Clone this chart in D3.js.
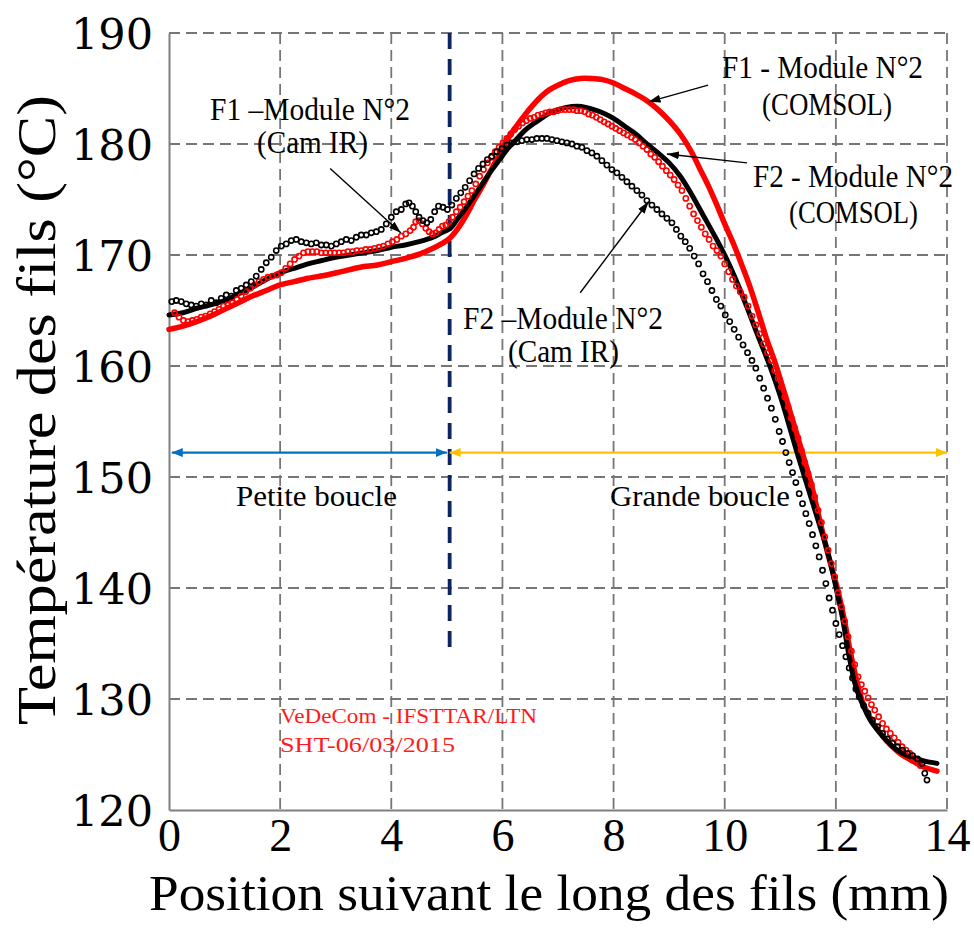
<!DOCTYPE html>
<html><head><meta charset="utf-8">
<script src="https://cdn.jsdelivr.net/npm/d3@7"></script>
<style>body{margin:0;background:#fff}</style>
</head><body>
<svg id="c" width="974" height="935"></svg>
<script>
// ---------- data ----------
const xTicks = [0, 2, 4, 6, 8, 10, 12, 14];
const yTicks = [120, 130, 140, 150, 160, 170, 180, 190];
const xTitle = "Position suivant le long des fils (mm)";
const yTitle = "Température des fils (°C)";

// F1 - Module N°2 (COMSOL) : red filled dots
const f1Comsol = [[0.00,163.3],[0.25,163.6],[0.5,164.0],[0.75,164.5],[1.0,165.1],[1.25,165.7],[1.5,166.3],[1.75,166.8],[2.0,167.3],[2.25,167.6],[2.5,167.9],[2.84,168.2],[3.1,168.5],[3.44,168.9],[3.75,169.1],[4.0,169.4],[4.25,169.7],[4.52,170.1],[4.75,170.6],[4.9,171.0],[5.05,171.5],[5.2,172.4],[5.35,173.6],[5.5,175.0],[5.65,176.3],[5.8,177.7],[5.95,179.1],[6.1,180.5],[6.25,181.6],[6.4,182.6],[6.55,183.5],[6.7,184.3],[6.85,184.9],[7.0,185.3],[7.2,185.7],[7.4,185.9],[7.6,185.9],[7.8,185.8],[8.0,185.5],[8.2,185.0],[8.4,184.5],[8.6,183.9],[8.8,183.1],[9.0,182.1],[9.2,180.9],[9.4,179.3],[9.55,177.8],[9.7,176.3],[9.85,174.6],[10.0,172.8],[10.15,171.1],[10.3,169.2],[10.45,167.2],[10.6,164.9],[10.75,162.5],[10.9,160.4],[11.05,158.0],[11.2,155.5],[11.39,152.3],[11.55,149.5],[11.71,146.1],[11.85,143.2],[12.02,140.1],[12.15,137.2],[12.25,134.5],[12.35,132.2],[12.49,129.6],[12.65,128.0],[12.85,126.6],[13.0,125.8],[13.15,125.1],[13.35,124.5],[13.57,123.9],[13.82,123.5]];

// F2 - Module N°2 (COMSOL) : black filled dots
const f2Comsol = [[0.00,164.6],[0.25,164.8],[0.5,165.2],[0.75,165.5],[1.0,165.9],[1.25,166.5],[1.5,167.1],[1.75,167.8],[2.0,168.4],[2.25,168.8],[2.5,169.2],[2.75,169.5],[3.0,169.8],[3.25,170.0],[3.5,170.2],[3.75,170.4],[4.0,170.7],[4.25,170.9],[4.5,171.2],[4.75,171.6],[4.9,172.0],[5.06,172.4],[5.2,173.3],[5.35,174.3],[5.5,175.4],[5.65,176.5],[5.8,177.6],[5.95,178.6],[6.1,179.6],[6.25,180.4],[6.4,181.2],[6.55,181.8],[6.7,182.3],[6.85,182.8],[7.0,183.1],[7.15,183.3],[7.35,183.4],[7.5,183.3],[7.7,183.0],[7.85,182.7],[8.0,182.3],[8.2,181.6],[8.4,180.9],[8.6,180.0],[8.8,179.2],[9.0,178.3],[9.2,177.1],[9.4,175.5],[9.6,173.7],[9.8,171.9],[10.0,170.0],[10.2,167.8],[10.4,165.3],[10.6,162.7],[10.82,159.9],[11.0,157.3],[11.15,154.8],[11.29,152.4],[11.45,149.8],[11.68,146.1],[11.85,143.3],[12.0,140.1],[12.12,137.3],[12.23,134.1],[12.36,131.1],[12.5,129.3],[12.62,128.1],[12.8,126.9],[13.0,125.8],[13.2,125.1],[13.4,124.7],[13.6,124.4],[13.82,124.2]];

// F1 -Module N°2 (Cam IR) : red open circles
const f1CamIR = [[0.10,164.8],[0.18,164.4],[0.26,164.1],[0.34,164.0],[0.42,164.1],[0.50,164.2],[0.58,164.4],[0.66,164.5],[0.74,164.7],[0.82,164.9],[0.90,165.1],[0.98,165.4],[1.06,165.5],[1.14,165.7],[1.22,166.0],[1.30,166.3],[1.38,166.7],[1.46,167.0],[1.54,167.3],[1.62,167.6],[1.70,167.8],[1.78,168.0],[1.86,168.1],[1.94,168.2],[2.02,168.4],[2.10,168.8],[2.18,169.2],[2.26,169.6],[2.34,169.9],[2.42,170.2],[2.50,170.3],[2.58,170.3],[2.66,170.3],[2.74,170.2],[2.82,170.2],[2.90,170.2],[2.98,170.2],[3.06,170.2],[3.14,170.2],[3.22,170.3],[3.30,170.3],[3.38,170.4],[3.46,170.4],[3.54,170.5],[3.62,170.5],[3.70,170.6],[3.78,170.7],[3.86,170.8],[3.94,171.0],[4.02,171.2],[4.10,171.4],[4.18,171.7],[4.26,171.9],[4.34,172.2],[4.40,172.5],[4.44,173.0],[4.50,173.1],[4.56,172.8],[4.62,172.4],[4.68,172.1],[4.74,171.9],[4.80,172.0],[4.86,172.3],[4.92,172.6],[4.98,172.7],[5.04,173.0],[5.10,173.4],[5.17,173.9],[5.24,174.3],[5.31,174.8],[5.38,175.3],[5.45,175.8],[5.52,176.4],[5.59,177.1],[5.66,177.7],[5.73,178.3],[5.80,178.8],[5.87,179.3],[5.94,179.7],[6.01,180.1],[6.08,180.5],[6.15,180.9],[6.22,181.3],[6.29,181.6],[6.36,181.9],[6.43,182.1],[6.50,182.3],[6.57,182.4],[6.64,182.6],[6.71,182.7],[6.78,182.8],[6.85,182.9],[6.92,182.9],[6.99,183.0],[7.06,183.1],[7.13,183.1],[7.20,183.1],[7.27,183.1],[7.34,183.0],[7.41,183.0],[7.48,182.9],[7.55,182.7],[7.62,182.6],[7.69,182.4],[7.76,182.2],[7.83,182.0],[7.90,181.8],[7.97,181.6],[8.04,181.4],[8.11,181.2],[8.18,181.0],[8.25,180.8],[8.32,180.6],[8.39,180.4],[8.46,180.1],[8.53,179.8],[8.60,179.5],[8.67,179.1],[8.74,178.8],[8.81,178.4],[8.88,178.0],[8.95,177.6],[9.02,177.2],[9.09,176.8],[9.16,176.3],[9.23,175.8],[9.30,175.1],[9.37,174.4],[9.44,173.7],[9.51,173.1],[9.58,172.5],[9.65,171.9],[9.72,171.4],[9.79,170.8],[9.86,170.4],[9.93,169.9],[10.00,169.2],[10.07,168.5],[10.14,167.8],[10.21,167.2],[10.28,166.7],[10.35,166.2],[10.42,165.4],[10.49,164.5],[10.56,163.7],[10.63,162.9],[10.70,162.0],[10.77,161.2],[10.84,160.5],[10.90,159.6],[10.96,158.9],[11.02,158.1],[11.08,157.2],[11.14,156.3],[11.20,155.3],[11.26,154.4],[11.32,153.5],[11.38,152.4],[11.44,151.3],[11.50,150.3],[11.56,149.3],[11.62,148.2],[11.68,147.0],[11.74,145.9],[11.80,144.6],[11.86,143.4],[11.92,142.2],[11.98,141.0],[12.04,139.6],[12.10,138.3],[12.16,137.0],[12.22,135.6],[12.28,134.3],[12.34,133.1],[12.40,132.0],[12.46,131.3],[12.52,130.7],[12.58,130.1],[12.64,129.5],[12.70,129.0],[12.77,128.4],[12.84,127.8],[12.91,127.3],[12.98,126.9],[13.05,126.5],[13.12,126.1],[13.19,125.7],[13.26,125.4],[13.33,125.1],[13.40,124.7],[13.47,124.3],[13.52,124.0]];

// F2 -Module N°2 (Cam IR) : black open circles
const f2CamIR = [[0.05,165.8],[0.13,165.9],[0.22,165.8],[0.31,165.6],[0.40,165.5],[0.49,165.4],[0.58,165.6],[0.67,165.5],[0.76,165.9],[0.85,165.7],[0.94,166.1],[1.03,166.4],[1.12,166.3],[1.21,166.8],[1.30,167.0],[1.39,167.3],[1.48,167.6],[1.57,168.1],[1.66,168.7],[1.75,169.3],[1.84,169.8],[1.93,170.4],[2.02,170.8],[2.11,171.0],[2.20,171.3],[2.29,171.4],[2.38,171.2],[2.47,171.1],[2.56,171.0],[2.65,171.1],[2.74,170.9],[2.83,170.9],[2.92,170.8],[3.01,171.0],[3.10,171.2],[3.19,171.4],[3.28,171.3],[3.37,171.6],[3.46,171.8],[3.55,171.8],[3.64,172.0],[3.73,172.1],[3.82,172.3],[3.91,172.8],[4.00,173.4],[4.09,173.9],[4.18,174.1],[4.26,174.6],[4.32,174.7],[4.38,174.4],[4.44,173.9],[4.50,173.4],[4.57,173.1],[4.64,172.9],[4.71,173.2],[4.78,173.9],[4.85,174.4],[4.93,174.3],[5.01,174.1],[5.09,174.5],[5.17,175.1],[5.25,175.6],[5.33,176.1],[5.41,176.7],[5.49,177.3],[5.57,177.8],[5.65,178.2],[5.73,178.6],[5.81,178.9],[5.90,179.3],[5.99,179.6],[6.08,179.9],[6.17,180.1],[6.26,180.2],[6.35,180.3],[6.44,180.4],[6.53,180.4],[6.62,180.5],[6.71,180.5],[6.80,180.5],[6.89,180.4],[6.98,180.3],[7.07,180.2],[7.16,180.1],[7.25,180.0],[7.34,179.8],[7.43,179.7],[7.52,179.4],[7.61,179.2],[7.70,178.9],[7.79,178.5],[7.88,178.1],[7.97,177.7],[8.06,177.4],[8.15,177.0],[8.24,176.6],[8.33,176.2],[8.42,175.8],[8.51,175.4],[8.60,174.9],[8.69,174.5],[8.78,174.1],[8.87,173.7],[8.96,173.3],[9.05,172.9],[9.13,172.3],[9.21,171.7],[9.29,171.2],[9.37,170.6],[9.45,169.9],[9.53,169.2],[9.61,168.3],[9.69,167.6],[9.77,166.8],[9.85,166.0],[9.93,165.4],[10.01,164.6],[10.09,164.0],[10.17,163.3],[10.25,162.6],[10.33,161.9],[10.41,161.2],[10.49,160.5],[10.56,159.8],[10.63,158.9],[10.70,158.0],[10.77,157.1],[10.84,156.2],[10.91,155.2],[10.98,154.1],[11.04,153.2],[11.10,152.2],[11.16,151.3],[11.22,150.4],[11.28,149.5],[11.34,148.5],[11.40,147.6],[11.46,146.7],[11.52,145.8],[11.58,144.8],[11.64,143.8],[11.70,142.8],[11.76,141.6],[11.82,140.4],[11.88,139.1],[11.94,138.0],[12.00,136.8],[12.06,135.8],[12.12,134.8],[12.18,133.8],[12.24,132.8],[12.30,131.9],[12.36,130.9],[12.42,130.2],[12.50,129.4],[12.58,128.7],[12.66,128.1],[12.75,127.5],[12.84,126.9],[12.93,126.4],[13.02,126.0],[13.11,125.7],[13.20,125.4],[13.29,125.1],[13.38,124.9],[13.47,124.6],[13.55,124.2],[13.60,123.3],[13.64,122.7]];

// boundary between loops (mm) and its temperature span
const boundaryX = [5.05];
const boundarySpan = [190, 134];
// loop extent arrows: [xStart, xEnd, temperature]
const petiteBoucle = [0.05, 5.0, 152.2];
const grandeBoucle = [5.05, 14.0, 152.2];
// annotation arrows: [xFrom, tFrom, xTo, tTo]
const pointers = [[2.90,177.8,4.17,172.0],[9.70,185.3,8.63,183.8],[10.40,178.3,8.96,179.1],[7.40,166.6,8.63,174.8]];

// ---------- drawing ----------
const W = 974, H = 935;
const svg = d3.select('#c');
svg.append('rect').attr('width', W).attr('height', H).attr('fill', '#fff');
const x = d3.scaleLinear().domain([0, 14]).range([169, 947]);
const y = d3.scaleLinear().domain([120, 190]).range([810, 33]);

const defs = svg.append('defs');
function marker(id, color, len, wid) {
  defs.append('marker').attr('id', id).attr('markerUnits', 'userSpaceOnUse')
    .attr('viewBox', `0 ${-wid/2} ${len} ${wid}`).attr('refX', len).attr('refY', 0)
    .attr('markerWidth', len).attr('markerHeight', wid).attr('orient', 'auto-start-reverse')
    .append('path').attr('d', `M0,${-wid/2}L${len},0L0,${wid/2}Z`).attr('fill', color);
}
marker('ab', '#0070C0', 11, 9);
marker('ao', '#FFC000', 11, 9);
marker('ak', '#000', 12, 8);

// grid
const gridStyle = g => g.attr('stroke', '#767676').attr('stroke-width', 1.8).attr('stroke-dasharray', '11,6').attr('fill', 'none');
svg.append('g').call(gridStyle).selectAll('line').data(yTicks.filter(t => t > 120)).join('line')
  .attr('x1', x(0)).attr('x2', x(14)).attr('y1', d => y(d)).attr('y2', d => y(d));
svg.append('g').call(gridStyle).selectAll('line').data(xTicks.filter(t => t > 0)).join('line')
  .attr('y1', y(190)).attr('y2', y(120)).attr('x1', d => x(d)).attr('x2', d => x(d));

// axes
const ax = svg.append('g').attr('transform', `translate(0,${y(120)})`)
  .call(d3.axisBottom(x).tickValues(xTicks).tickSize(0).tickPadding(8).tickFormat(d3.format('d')));
ax.select('.domain').attr('stroke', '#808080').attr('stroke-width', 2);
ax.selectAll('text').attr('font-family', 'Liberation Serif, serif').attr('font-size', 46).attr('fill', '#000');
const ay = svg.append('g').attr('transform', `translate(${x(0)},0)`)
  .call(d3.axisLeft(y).tickValues(yTicks).tickSize(0).tickPadding(16).tickFormat(d3.format('d')));
ay.select('.domain').attr('stroke', '#808080').attr('stroke-width', 2);
ay.selectAll('text').attr('font-family', 'DejaVu Serif, serif').attr('font-size', 43).attr('dy', '0.36em').attr('fill', '#000');

// titles
svg.append('text').text(xTitle).attr('x', 549).attr('y', 910).attr('text-anchor', 'middle')
  .attr('font-family', 'Liberation Serif, serif').attr('font-size', 50)
  .attr('textLength', 800).attr('lengthAdjust', 'spacingAndGlyphs');
svg.append('text').text(yTitle).attr('transform', 'translate(55,410) rotate(-90)').attr('text-anchor', 'middle')
  .attr('font-family', 'Liberation Serif, serif').attr('font-size', 54)
  .attr('textLength', 630).attr('lengthAdjust', 'spacingAndGlyphs');

// boundary line
svg.append('line').attr('x1', x(boundaryX[0])).attr('x2', x(boundaryX[0]))
  .attr('y1', y(boundarySpan[0])).attr('y2', y(boundarySpan[1]))
  .attr('stroke', '#0c2461').attr('stroke-width', 3.8).attr('stroke-dasharray', '16,10');

// loop arrows
svg.append('line').attr('x1', x(petiteBoucle[0])).attr('x2', x(petiteBoucle[1]))
  .attr('y1', y(petiteBoucle[2])).attr('y2', y(petiteBoucle[2]))
  .attr('stroke', '#0070C0').attr('stroke-width', 2.4)
  .attr('marker-start', 'url(#ab)').attr('marker-end', 'url(#ab)');
svg.append('line').attr('x1', x(grandeBoucle[0])).attr('x2', x(grandeBoucle[1]))
  .attr('y1', y(grandeBoucle[2])).attr('y2', y(grandeBoucle[2]))
  .attr('stroke', '#FFC000').attr('stroke-width', 2.4)
  .attr('marker-start', 'url(#ao)').attr('marker-end', 'url(#ao)');

// series
const line = d3.line().x(d => x(d[0])).y(d => y(d[1])).curve(d3.curveCatmullRom.alpha(0.5));
svg.append('path').datum(f1Comsol).attr('d', line).attr('fill', 'none').attr('stroke', '#ff0000')
  .attr('stroke-width', 5.5).attr('stroke-linecap', 'round').attr('stroke-linejoin', 'round');
svg.append('path').datum(f2Comsol).attr('d', line).attr('fill', 'none').attr('stroke', '#000')
  .attr('stroke-width', 5).attr('stroke-linecap', 'round').attr('stroke-linejoin', 'round');
svg.append('g').selectAll('circle').data(f1CamIR).join('circle')
  .attr('cx', d => x(d[0])).attr('cy', d => y(d[1])).attr('r', 2.6)
  .attr('fill', 'none').attr('stroke', '#ff0000').attr('stroke-width', 1.6);
svg.append('g').selectAll('circle').data(f2CamIR).join('circle')
  .attr('cx', d => x(d[0])).attr('cy', d => y(d[1])).attr('r', 2.6)
  .attr('fill', 'none').attr('stroke', '#000').attr('stroke-width', 1.6);

// pointers
svg.append('g').selectAll('line').data(pointers).join('line')
  .attr('x1', d => x(d[0])).attr('y1', d => y(d[1])).attr('x2', d => x(d[2])).attr('y2', d => y(d[3]))
  .attr('stroke', '#000').attr('stroke-width', 1.4).attr('marker-end', 'url(#ak)');

// labels
const labels = [
  {t: 'F1 –Module N°2', x: 210, y: 120, w: 200, s: 31, c: '#000'},
  {t: '(Cam IR)', x: 257, y: 153, w: 111, s: 31, c: '#000'},
  {t: 'F1 - Module N°2', x: 722, y: 78, w: 201, s: 31, c: '#000'},
  {t: '(COMSOL)', x: 762, y: 115, w: 130, s: 31, c: '#000'},
  {t: 'F2 - Module N°2', x: 753, y: 187, w: 200, s: 31, c: '#000'},
  {t: '(COMSOL)', x: 789, y: 223, w: 129, s: 31, c: '#000'},
  {t: 'F2 –Module N°2', x: 463, y: 329, w: 200, s: 31, c: '#000'},
  {t: '(Cam IR)', x: 508, y: 362, w: 111, s: 31, c: '#000'},
  {t: 'Petite boucle', x: 236, y: 506, w: 161, s: 29, c: '#000'},
  {t: 'Grande boucle', x: 610, y: 506, w: 180, s: 29, c: '#000'},
  {t: 'VeDeCom - IFSTTAR/LTN', x: 280, y: 723, w: 257, s: 21, c: '#ff1a1a'},
  {t: 'SHT-06/03/2015', x: 280, y: 752, w: 175, s: 21, c: '#ff1a1a'}
];
svg.append('g').selectAll('text').data(labels).join('text')
  .text(d => d.t).attr('x', d => d.x).attr('y', d => d.y)
  .attr('font-family', 'Liberation Serif, serif').attr('font-size', d => d.s).attr('fill', d => d.c)
  .attr('textLength', d => d.w).attr('lengthAdjust', 'spacingAndGlyphs');
</script>
</body></html>
